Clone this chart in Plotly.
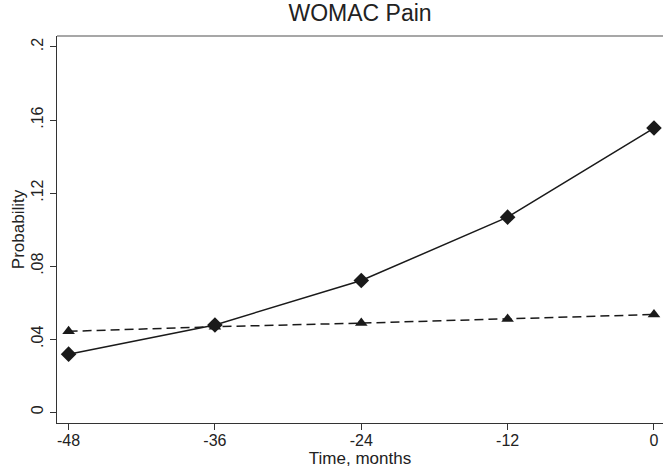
import plotly.graph_objects as go

months = [-48, -36, -24, -12, 0]
solid_prob = [0.0318, 0.0478, 0.0721, 0.1068, 0.1556]
dashed_prob = [0.0443, 0.0468, 0.0488, 0.0510, 0.0535]

x_ticks = [-48, -36, -24, -12, 0]
x_ticktext = ["-48", "-36", "-24", "-12", "0"]
y_ticks = [0, 0.04, 0.08, 0.12, 0.16, 0.2]
y_ticktext = ["0", ".04", ".08", ".12", ".16", ".2"]

fig = go.Figure()
fig.add_trace(go.Scatter(
    x=months, y=dashed_prob, mode="lines+markers",
    line=dict(color="#1a1a1a", width=1.5, dash="9px,5px"),
    marker=dict(symbol="triangle-up", size=11, color="#1a1a1a"),
    showlegend=False))
fig.add_trace(go.Scatter(
    x=months, y=solid_prob, mode="lines+markers",
    line=dict(color="#1a1a1a", width=1.5),
    marker=dict(symbol="diamond", size=12, color="#1a1a1a"),
    showlegend=False))

font_family = "Liberation Sans, Arial, sans-serif"
fig.update_layout(
    width=663, height=473,
    margin=dict(l=57, r=0, t=36, b=50),
    paper_bgcolor="white", plot_bgcolor="white",
    font=dict(family=font_family, color="#222222", size=16),
    title=dict(text="WOMAC Pain", x=0.543, xanchor="center", y=1 - 13 / 473,
               yanchor="middle", font=dict(size=23, color="#222222")),
    xaxis=dict(range=[-48.95, 0.74], tickvals=x_ticks, ticktext=x_ticktext,
               automargin=False, ticklabelstandoff=-3,
               showgrid=False, zeroline=False, showline=True, linecolor="#333333",
               linewidth=1.3, ticks="outside", ticklen=6, tickcolor="#333333",
               tickfont=dict(size=16), title=dict(text="Time, months", standoff=0,
               font=dict(size=17))),
    yaxis=dict(range=[-0.0059, 0.206], tickvals=y_ticks, ticktext=y_ticktext,
               automargin=False,
               showgrid=False, zeroline=False, showline=True, linecolor="#333333",
               linewidth=1.3, ticks="outside", ticklen=6, tickcolor="#333333",
               tickangle=-90, tickfont=dict(size=16),
               title=dict(text="Probability", standoff=0, font=dict(size=17))),
    shapes=[dict(type="line", xref="paper", yref="paper", x0=0, x1=1, y0=1, y1=1,
                 line=dict(color="#8a8a8a", width=1.5))],
)

fig.write_html(
    "out.html",
    config={"displayModeBar": False},
    post_script="document.body.style.margin='0';document.body.style.overflow='hidden';",
)
